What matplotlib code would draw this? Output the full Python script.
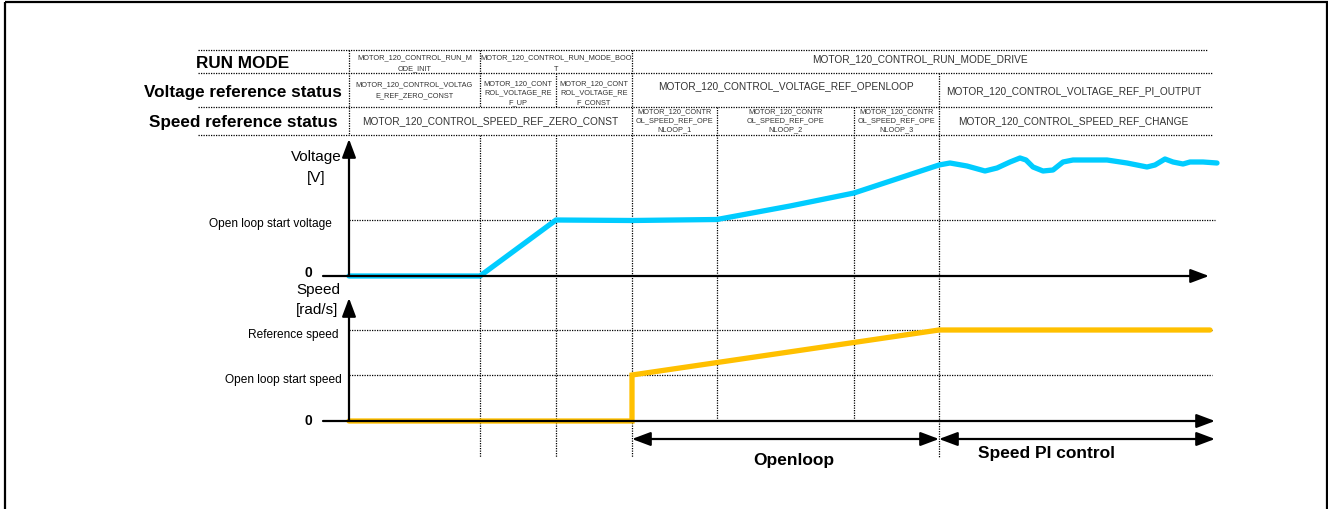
import matplotlib
matplotlib.use("Agg")
import matplotlib.pyplot as plt
from matplotlib.patches import Rectangle

plt.rcParams['font.family'] = ['Liberation Sans', 'DejaVu Sans']

# phase boundaries along the time axis (diagram units, left to right)
t_start = 349
t_init_end = 480
t_up_end = 556
t_ol_start = 632
t_ol1_end = 717
t_ol2_end = 854
t_pi_start = 939
t_end = 1212

# levels (diagram units, top = smaller)
v_zero = 277
v_ol_start = 221
s_zero = 422
s_ol_start = 376
s_ref = 331

# voltage trace
volt_t = [349, 480, 556, 632, 717, 790, 854, 939, 950, 967, 985, 997, 1010, 1020, 1026,
          1033, 1043, 1053, 1063, 1073, 1087, 1107, 1127, 1147, 1155, 1165, 1173, 1183,
          1190, 1203, 1217]
volt_v = [277, 277, 221, 221.5, 220.5, 207, 194, 166, 164, 167, 172, 169, 163, 159, 161,
          168, 172, 171, 163, 161, 161, 161, 164, 168, 166, 160, 163, 165,
          163, 163, 164]

# speed trace
speed_t = [349, 632, 632, 939, 1210]
speed_v = [422, 422, 376, 331, 331]

# table rows: (label, y top, y bottom)
row_names = ["RUN MODE", "Voltage reference status", "Speed reference status"]
row_edges = [51, 74, 108, 136]

# table cells: (x0, x1, text, y, fontsize, line spacing)
run_cells = [
    (349, 480, "MOTOR_120_CONTROL_RUN_M\nODE_INIT", 63.5, 5.3, 1.9),
    (480, 632, "MOTOR_120_CONTROL_RUN_MODE_BOO\nT", 63.5, 5.3, 1.9),
    (632, 1208, "MOTOR_120_CONTROL_RUN_MODE_DRIVE", 59, 7.3, 1.2),
]
volt_cells = [
    (349, 480, "MOTOR_120_CONTROL_VOLTAG\nE_REF_ZERO_CONST", 90, 5.3, 1.75),
    (480, 556, "MOTOR_120_CONT\nROL_VOLTAGE_RE\nF_UP", 93, 5.3, 1.5),
    (556, 632, "MOTOR_120_CONT\nROL_VOLTAGE_RE\nF_CONST", 93, 5.3, 1.5),
    (632, 939, "MOTOR_120_CONTROL_VOLTAGE_REF_OPENLOOP", 86, 7.3, 1.2),
    (939, 1208, "MOTOR_120_CONTROL_VOLTAGE_REF_PI_OUTPUT", 91, 7.3, 1.2),
]
speed_cells = [
    (349, 632, "MOTOR_120_CONTROL_SPEED_REF_ZERO_CONST", 121, 7.3, 1.2),
    (632, 717, "MOTOR_120_CONTR\nOL_SPEED_REF_OPE\nNLOOP_1", 121, 5.3, 1.4),
    (717, 854, "MOTOR_120_CONTR\nOL_SPEED_REF_OPE\nNLOOP_2", 121, 5.3, 1.4),
    (854, 939, "MOTOR_120_CONTR\nOL_SPEED_REF_OPE\nNLOOP_3", 121, 5.3, 1.4),
    (939, 1208, "MOTOR_120_CONTROL_SPEED_REF_CHANGE", 121, 7.3, 1.2),
]

# vertical dotted separators: x, list of (y0, y1) segments
separators = [
    (t_start, [(51, 136)]),
    (t_init_end, [(51, 108), (136, 458)]),
    (t_up_end, [(74, 108), (136, 458)]),
    (t_ol_start, [(51, 458)]),
    (t_ol1_end, [(108, 422)]),
    (t_ol2_end, [(108, 422)]),
    (t_pi_start, [(74, 458)]),
]

blue = "#00CCFF"
orange = "#FFC000"
txt_grey = "#333333"

fig = plt.figure(figsize=(13.28, 5.10), dpi=100)
ax = fig.add_axes([0, 0, 1, 1])
ax.set_xlim(0, 1328)
ax.set_ylim(510, 0)
ax.axis("off")

# outer frame
ax.add_patch(Rectangle((5, 3), 1322, 515, fill=False, lw=1.6, ec="black", clip_on=False))

dot = dict(color="black", lw=0.9, ls=(0, (1, 1)))

# table horizontal lines
for i, y in enumerate(row_edges):
    ax.plot([198, 1208 if i == 0 else 1212], [y, y], **dot)

# row labels
for name, y0, y1 in zip(row_names, row_edges[:-1], row_edges[1:]):
    ax.text(243, (y0 + y1) / 2 + 1, name, ha="center", va="center",
            fontsize=12.3, fontweight="bold")

for cells in (run_cells, volt_cells, speed_cells):
    for x0, x1, label, y, fs, ls in cells:
        ax.text((x0 + x1) / 2, y, label, ha="center", va="center", fontsize=fs,
                color=txt_grey, linespacing=ls)

# separators
for x, segs in separators:
    for y0, y1 in segs:
        ax.plot([x, x], [y0, y1], **dot)

# reference levels
ax.plot([t_start, 1215], [v_ol_start, v_ol_start], **dot)
ax.plot([t_start, t_end], [s_ref, s_ref], **dot)
ax.plot([t_start, t_end], [s_ol_start, s_ol_start], **dot)

arrow = dict(arrowstyle="-|>,head_width=0.3,head_length=0.8", color="black", lw=1.6,
             mutation_scale=14, shrinkA=0, shrinkB=0)
# voltage axes
ax.annotate("", xy=(t_start, 140), xytext=(t_start, v_zero), arrowprops=arrow)
ax.annotate("", xy=(1209, v_zero), xytext=(323, v_zero), arrowprops=arrow)
# speed axes
ax.annotate("", xy=(t_start, 299), xytext=(t_start, s_zero), arrowprops=arrow)
ax.annotate("", xy=(1215, s_zero), xytext=(323, s_zero), arrowprops=arrow)

# traces
ax.plot(volt_t, volt_v, color=blue, lw=3.8, solid_capstyle="round", solid_joinstyle="round")
ax.plot(speed_t, speed_v, color=orange, lw=3.8, solid_capstyle="round", solid_joinstyle="miter")

# axis labels
ax.text(316, 157, "Voltage", ha="center", va="center", fontsize=11)
ax.text(316, 178, "[V]", ha="center", va="center", fontsize=11)
ax.text(318, 290, "Speed", ha="center", va="center", fontsize=11)
ax.text(317, 310, "[rad/s]", ha="center", va="center", fontsize=11)
ax.text(332, 224, "Open loop start voltage", ha="right", va="center", fontsize=8.6)
ax.text(338, 335, "Reference speed", ha="right", va="center", fontsize=8.6)
ax.text(342, 380, "Open loop start speed", ha="right", va="center", fontsize=8.6)
ax.text(308, 273, "0", ha="center", va="center", fontsize=10, fontweight="bold")
ax.text(308, 421, "0", ha="center", va="center", fontsize=10, fontweight="bold")

# control phases
darrow = dict(arrowstyle="<|-|>,head_width=0.3,head_length=0.8", color="black", lw=1.6,
              mutation_scale=14, shrinkA=0, shrinkB=0)
ax.annotate("", xy=(t_pi_start, 440), xytext=(t_ol_start, 440), arrowprops=darrow)
ax.annotate("", xy=(1215, 440), xytext=(t_pi_start, 440), arrowprops=darrow)
ax.text(794, 461, "Openloop", ha="center", va="center", fontsize=12.5, fontweight="bold")
ax.text(1046, 454, "Speed PI control", ha="center", va="center", fontsize=12.5, fontweight="bold")

fig.savefig("out.png", dpi=100)
